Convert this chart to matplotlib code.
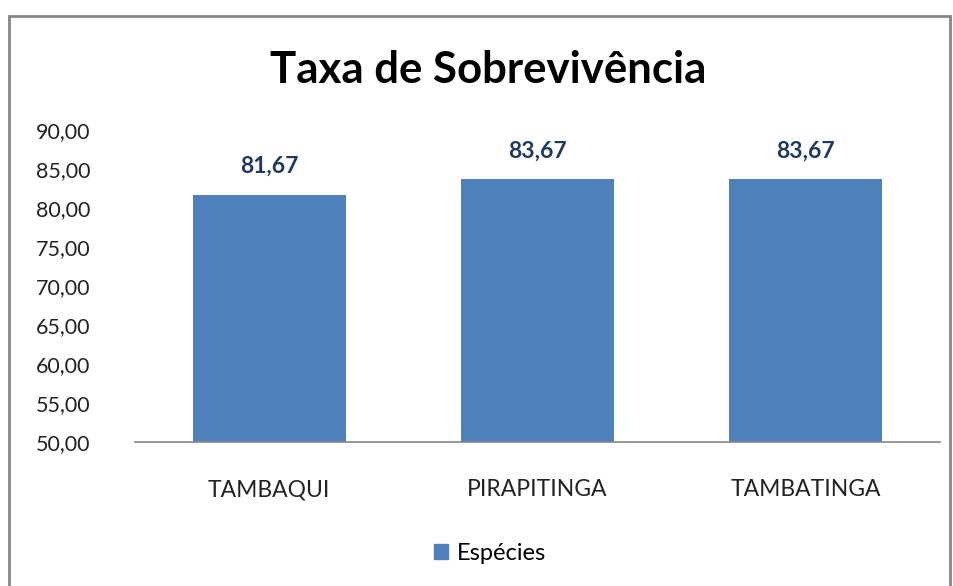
import matplotlib
matplotlib.use("Agg")
import matplotlib.pyplot as plt
from matplotlib.patches import Rectangle, Patch

categories = ["TAMBAQUI", "PIRAPITINGA", "TAMBATINGA"]
values = [81.67, 83.67, 83.67]
yticks = [50, 55, 60, 65, 70, 75, 80, 85, 90]
ytick_labels = ["50,00", "55,00", "60,00", "65,00", "70,00", "75,00", "80,00", "85,00", "90,00"]
series_name = "Espécies"
title = "Taxa de Sobrevivência"

W, H = 954, 586
fig = plt.figure(figsize=(W/100, H/100), dpi=100)
plt.rcParams['font.family'] = ['Lato', 'DejaVu Sans']

# outer chart frame
fig.patches.append(Rectangle((9/W, -0.05), (950-9)/W, 1.05 - 16/H, transform=fig.transFigure,
                             fill=False, edgecolor="#868686", linewidth=2))

ax = fig.add_axes([135/W, 1-442/H, (940-135)/W, (442-130)/H])
x = range(len(categories))
bars = ax.bar(x, values, width=0.57, color="#4F81BD", label=series_name, zorder=2)
ax.set_ylim(50, 90)
ax.set_xlim(-0.5, 2.5)
ax.set_yticks(yticks)
ax.set_yticklabels(ytick_labels)
ax.set_xticks(list(x))
ax.set_xticklabels(categories)
for s in ["top", "right", "left"]:
    ax.spines[s].set_visible(False)
ax.spines["bottom"].set_color("#868686")
ax.spines["bottom"].set_linewidth(1.2)
ax.tick_params(axis="y", length=0, pad=32, labelsize=15.5, labelcolor="#222222")
ax.tick_params(axis="x", length=0, pad=27, labelsize=16.5, labelcolor="#222222")

for b, v in zip(bars, values):
    ax.annotate(f"{v:.2f}".replace(".", ","), (b.get_x() + b.get_width()/2, v),
                xytext=(0, 13), textcoords="offset points", ha="center", va="bottom",
                fontsize=16.5, fontweight="bold", color="#1F3A5F")

fig.text(488/W, 1-70/H, title, ha="center", va="center", fontsize=31.5, fontweight="bold", color="black")

fig.legend(handles=[Patch(color="#4F81BD", label=series_name)], loc="center",
           bbox_to_anchor=(490/W, 1-553/H), frameon=False, fontsize=17,
           handlelength=0.6, handleheight=0.6, handletextpad=0.4)

fig.savefig("out.png", dpi=100)
